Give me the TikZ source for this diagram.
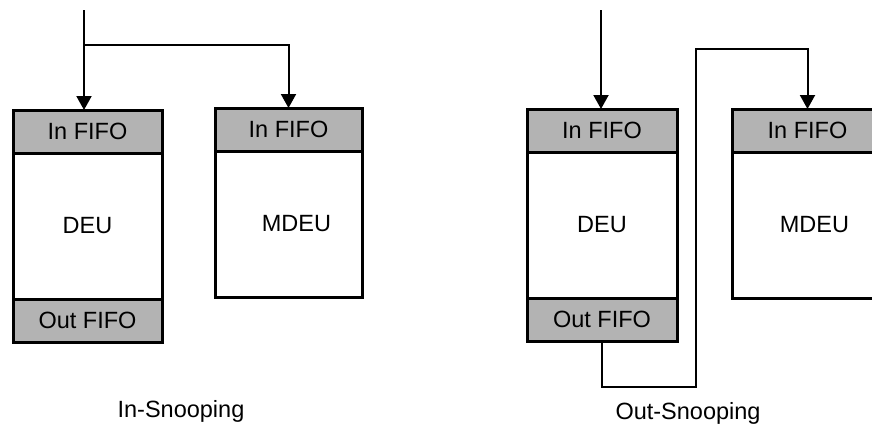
\documentclass[tikz,border=0pt]{standalone}
\usepackage{fontspec}
\setmainfont{Liberation Sans}
\usetikzlibrary{positioning,arrows.meta}
\definecolor{cFifo}{HTML}{B3B3B3}

\begin{document}
\begin{tikzpicture}[
  x=1pt,y=-1pt,
  font=\fontsize{23.5}{27}\selectfont,
  unit/.style={draw,line width=3pt,outer sep=0pt,inner sep=0pt,minimum width=149pt},
  fifo/.style={unit,fill=cFifo,minimum height=43pt},
  core/.style={unit,fill=white,minimum height=146pt},
  wire/.style={line width=2pt},
  ar/.style={-{Triangle[width=15pt,length=14pt]},wire}
]
\useasboundingbox (0,0) rectangle (872,423);
\clip (0,0) rectangle (872,423);
% in-snooping
\node[fifo,anchor=north west] (i1) at (13,110) {In FIFO};
\node[core,below=0pt of i1] (d1) {DEU};
\node[fifo,below=0pt of d1] (o1) {Out FIFO};
\node[fifo,anchor=north west,minimum width=147pt] (i2) at (215,108) {In FIFO};
\node[core,below=0pt of i2,minimum width=147pt,label={[xshift=8pt]center:MDEU}] (m2) {};
\coordinate (s1) at (84,10);
\coordinate (b1) at (84,45);
\draw[ar] (s1) -- (s1 |- i1.north);
\draw[ar] (b1) -| (i2.north);
\node[anchor=base] (t1) at (181,417) {In-Snooping};
% out-snooping
\node[fifo,anchor=north west,minimum width=150pt] (i3) at (527,109) {In FIFO};
\node[core,below=0pt of i3,minimum width=150pt] (d3) {DEU};
\node[fifo,below=0pt of d3,minimum width=150pt] (o3) {Out FIFO};
\node[fifo,anchor=north west,minimum width=151pt] (i4) at (732,109) {In FIFO};
\node[core,below=0pt of i4,minimum width=151pt,label={[xshift=7pt]center:MDEU}] (m4) {};
\coordinate (s3) at (601,10);
\coordinate (u3) at (696,49);
\draw[ar] (s3) -- (s3 |- i3.north);
\draw[ar] (o3.south) -- ++(0,46) -| (u3) -| (i4.north);
\node[anchor=base] (t2) at (688,419) {Out-Snooping};
\end{tikzpicture}
\end{document}
